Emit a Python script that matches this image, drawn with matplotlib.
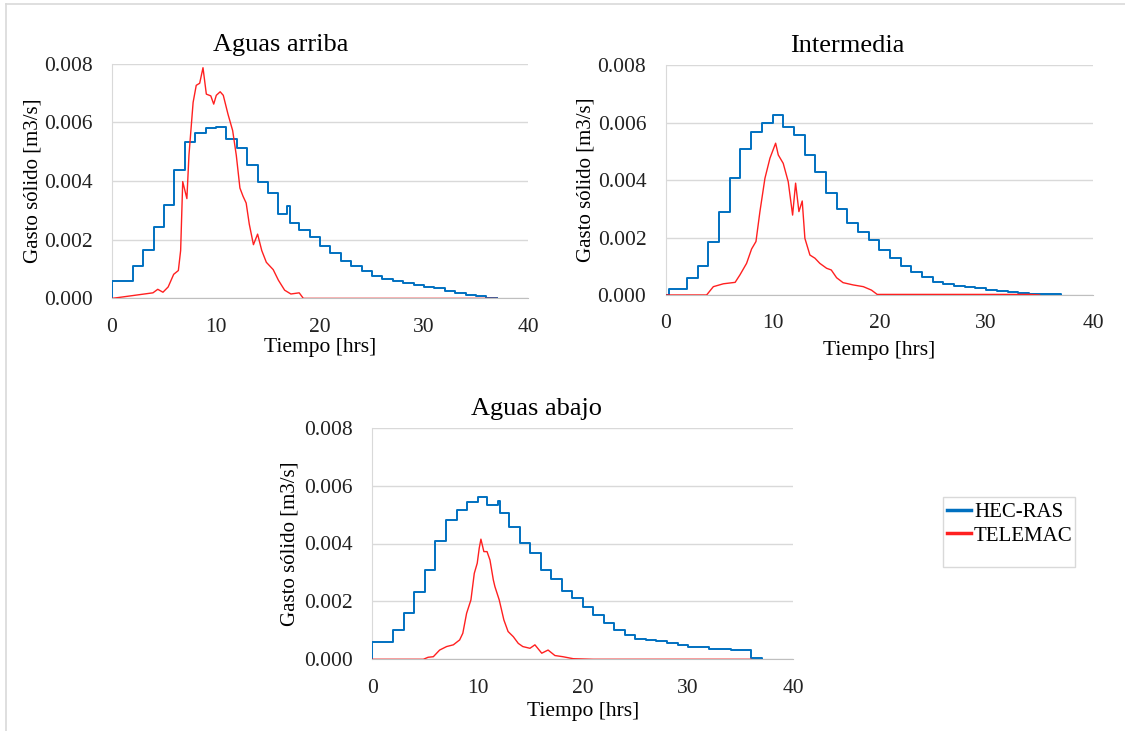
import matplotlib.pyplot as plt
from matplotlib.lines import Line2D
from matplotlib.patches import Rectangle
from matplotlib.ticker import FormatStrFormatter

plt.rcParams['font.family'] = ['Liberation Serif', 'DejaVu Serif']

# HEC-RAS (stepped series), times in hours
hec_up_t = [0, 0, 2, 3, 4, 5, 6, 7, 8, 9, 10, 11, 12, 13, 14, 15, 16, 16.8, 17.1,
            18, 19, 20, 21, 22, 23, 24, 25, 26, 27, 28, 29, 30, 31, 32, 33, 34, 35, 36, 37]
hec_up_q = [0, 0.0006, 0.0011, 0.00166, 0.00244, 0.00319, 0.00439, 0.00532, 0.00565,
            0.00582, 0.00585, 0.00544, 0.00512, 0.00455, 0.00395, 0.00359, 0.00288,
            0.00314, 0.00258, 0.00232, 0.00208, 0.00177, 0.00154, 0.00129, 0.00112,
            0.00093, 0.00076, 0.00067, 0.0006, 0.00053, 0.00046, 0.00039, 0.00034,
            0.00026, 0.00019, 0.00013, 0.00008, 0.00003, 0]

hec_mid_t = [0, 0.3, 2, 3, 4, 5, 6, 7, 8, 9, 10, 11, 12, 13, 14, 15, 16, 17, 18, 19,
             20, 21, 22, 23, 24, 25, 26, 27, 28, 29, 30, 31, 32, 33, 34, 35, 37]
hec_mid_q = [0, 0.00021, 0.0006, 0.00102, 0.00186, 0.0029, 0.00406, 0.00508, 0.00568,
             0.006, 0.00625, 0.00586, 0.00557, 0.00487, 0.00429, 0.00354, 0.003, 0.0025,
             0.0022, 0.00191, 0.00157, 0.00128, 0.00102, 0.00081, 0.00064, 0.00046,
             0.00037, 0.00032, 0.00027, 0.00023, 0.00019, 0.00015, 0.00012, 0.00008,
             0.00005, 0.00002, 0]

hec_down_t = [0, 0, 2, 3, 4, 5, 6, 7, 8, 9, 10, 10.9, 11.9, 12.1, 13, 14, 15, 16, 17,
              18, 19, 20, 21, 22, 23, 24, 25, 26, 27, 28, 29, 30, 31, 32, 33, 33.7, 34.1,
              36, 37]
hec_down_q = [0, 0.00061, 0.00101, 0.00159, 0.00232, 0.00309, 0.00407, 0.0048, 0.00516,
              0.00545, 0.00562, 0.00533, 0.00548, 0.00507, 0.00458, 0.00403, 0.00366,
              0.00309, 0.00276, 0.00237, 0.00211, 0.00182, 0.00153, 0.00124, 0.00101,
              0.00084, 0.00069, 0.00065, 0.00064, 0.00058, 0.0005, 0.00044, 0.00044,
              0.00035, 0.00035, 0.00037, 0.00032, 0.00003, 0]

# TELEMAC (smooth series)
tel_up_t = [0, 3.94, 4.4, 4.9, 5.4, 5.93, 6.38, 6.6, 6.8, 7.2, 7.4, 7.8, 8.1, 8.43,
            8.75, 9.07, 9.5, 9.78, 10.03, 10.4, 10.7, 11.15, 11.6, 11.95, 12.3, 12.6,
            12.9, 13.2, 13.6, 14.0, 14.4, 14.84, 15.5, 16.0, 16.6, 17.2, 18.0, 18.4, 37]
tel_up_q = [0, 0.00019, 0.00031, 0.00021, 0.00039, 0.00082, 0.00095, 0.00163, 0.00398,
            0.0034, 0.00488, 0.00668, 0.00726, 0.00733, 0.00786, 0.00696, 0.0069,
            0.00662, 0.00692, 0.00704, 0.00692, 0.00628, 0.00572, 0.00488, 0.00376,
            0.00348, 0.00325, 0.00253, 0.00183, 0.00219, 0.00163, 0.00123, 0.00098,
            0.00062, 0.00028, 0.00015, 0.00019, 0, 0]

tel_mid_t = [0, 3.83, 4.46, 5.4, 6.5, 6.95, 7.57, 8.04, 8.45, 8.82, 9.29, 9.76, 10.29,
             10.54, 11.0, 11.47, 11.88, 12.16, 12.47, 12.78, 13.03, 13.5, 13.97, 14.43,
             15.06, 15.5, 16.0, 16.6, 17.55, 18.5, 19.26, 19.8, 34, 35]
tel_mid_q = [0, 0, 0.00029, 0.00039, 0.00044, 0.0007, 0.0011, 0.0016, 0.00186, 0.0029,
             0.00406, 0.00476, 0.00528, 0.00487, 0.00458, 0.00394, 0.00278, 0.00389,
             0.0029, 0.00327, 0.00197, 0.00139, 0.00128, 0.0011, 0.00093, 0.00087,
             0.0006, 0.00043, 0.00035, 0.00029, 0.00017, 0.00002, 0.00002, 0]

tel_down_t = [0, 4.85, 5.3, 5.8, 6.4, 7.06, 7.7, 8.3, 8.6, 8.96, 9.37, 9.69, 9.97, 10.16,
              10.32, 10.6, 10.9, 11.18, 11.5, 11.65, 12.06, 12.5, 12.9, 13.4, 13.87,
              14.3, 14.98, 15.45, 16.1, 16.7, 17.35, 18.1, 19.1, 21, 36]
tel_down_q = [0, 0, 0.00007, 0.00009, 0.00032, 0.00044, 0.0005, 0.00067, 0.0009, 0.00159,
              0.00205, 0.00297, 0.00332, 0.00384, 0.00415, 0.00372, 0.00372, 0.00343,
              0.00274, 0.00251, 0.00205, 0.00136, 0.00096, 0.00078, 0.00055, 0.00044,
              0.00038, 0.0005, 0.00021, 0.00032, 0.00013, 0.00009, 0.00002, 0, 0]

titles = ['Aguas arriba', 'Intermedia', 'Aguas abajo']
x_ticks = [0, 10, 20, 30, 40]
y_ticks = [0, 0.002, 0.004, 0.006, 0.008]

BLUE = '#0070C0'
RED = '#FF2020'
GRID = '#D9D9D9'

W, H = 1125, 731
fig = plt.figure(figsize=(W / 100, H / 100), dpi=100)


def px_axes(left, top, right, bottom):
    return fig.add_axes([left / W, 1 - bottom / H, (right - left) / W, (bottom - top) / H])


panels = [
    # axes box in px, title x (axes frac), ylabel x, xlabel y
    ((112, 63.6, 528, 298.4), 0.405, -0.168, -0.17),
    ((665.7, 65, 1093, 295), 0.424, -0.165, -0.2),
    ((372.3, 427.7, 793.3, 659.3), 0.391, -0.172, -0.184),
]
hec = [(hec_up_t, hec_up_q), (hec_mid_t, hec_mid_q), (hec_down_t, hec_down_q)]
tel = [(tel_up_t, tel_up_q), (tel_mid_t, tel_mid_q), (tel_down_t, tel_down_q)]

for i, (box, tx, ylx, xly) in enumerate(panels):
    ax = px_axes(*box)
    ax.plot(hec[i][0], hec[i][1], color=BLUE, lw=1.4, drawstyle='steps-post', zorder=3)
    ax.plot(tel[i][0], tel[i][1], color=RED, lw=1.0, zorder=4)
    ax.set_xlim(0, 40)
    ax.set_ylim(0, 0.008)
    ax.set_xticks(x_ticks)
    ax.set_yticks(y_ticks)
    ax.yaxis.set_major_formatter(FormatStrFormatter('%.3f'))
    ax.grid(axis='y', color=GRID, lw=1.0)
    ax.set_axisbelow(True)
    for s in ['top', 'right']:
        ax.spines[s].set_visible(False)
    ax.spines['left'].set_color(GRID)
    ax.spines['bottom'].set_color('#BFBFBF')
    ax.tick_params(axis='both', length=0, labelsize=15.5, colors='#222222')
    ax.tick_params(axis='y', pad=14)
    ax.tick_params(axis='x', pad=14)
    ax.set_title(titles[i], fontsize=19, x=tx, pad=9)
    ax.set_ylabel('Gasto sólido [m3/s]', fontsize=15)
    ax.set_xlabel('Tiempo [hrs]', fontsize=15.5)
    ax.yaxis.set_label_coords(ylx, 0.5)
    ax.xaxis.set_label_coords(0.5, xly)

handles = [Line2D([], [], color=BLUE, lw=2.5), Line2D([], [], color=RED, lw=2.5)]
leg = fig.legend(handles, ['HEC-RAS', 'TELEMAC'], loc='center left',
                 bbox_to_anchor=(947 / W, 1 - 524 / H), borderaxespad=0, borderpad=0,
                 fontsize=15, frameon=False, handlelength=1.15,
                 handletextpad=0.15, labelspacing=0.2)
fig.add_artist(Rectangle((943 / W, 1 - 567 / H), 132 / W, 70 / H,
                         transform=fig.transFigure, fill=False,
                         edgecolor=GRID, lw=1.0))

# outer chart border
fig.add_artist(Line2D([6 / W, 1], [1 - 4 / H, 1 - 4 / H], color=GRID, lw=1.2))
fig.add_artist(Line2D([6 / W, 6 / W], [0, 1 - 4 / H], color=GRID, lw=1.2))

fig.savefig('out.png', dpi=100)
